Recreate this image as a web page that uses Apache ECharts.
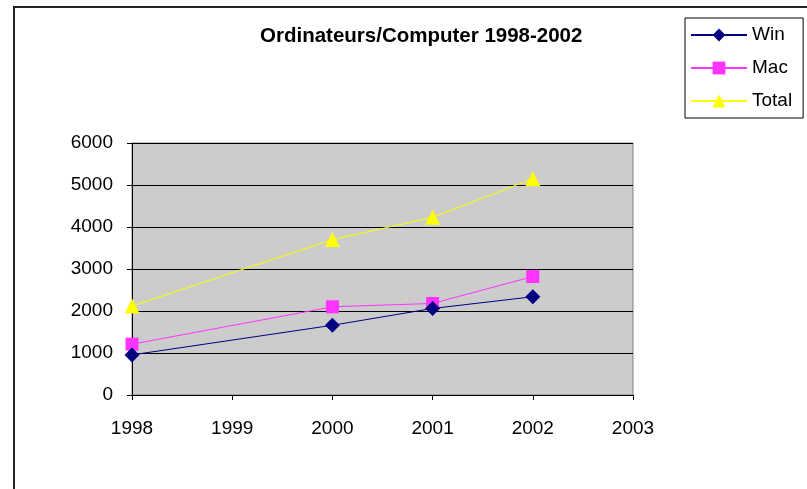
<!DOCTYPE html>
<html>
<head>
<meta charset="utf-8">
<script src="https://cdn.jsdelivr.net/npm/echarts@6/dist/echarts.min.js"></script>
<style>
  html, body { margin: 0; padding: 0; background: #fff; }
  #main { width: 807px; height: 489px; }
</style>
</head>
<body>
<div id="main"></div>
<script>
// data (no value for 1999)
var years = [1998, 2000, 2001, 2002];
var winValues = [955, 1660, 2060, 2340];
var macValues = [1210, 2100, 2180, 2820];
var totalValues = [2120, 3700, 4230, 5150];

function pairs(vals) {
  return years.map(function (y, i) { return [y, vals[i]]; });
}

var font = '"Liberation Sans", Arial, sans-serif';
var myChart = echarts.init(document.getElementById('main'));

myChart.setOption({
  animation: false,
  backgroundColor: '#fff',
  textStyle: { fontFamily: font },
  title: {
    text: 'Ordinateurs/Computer 1998-2002',
    left: 255,
    top: 21,
    textStyle: { fontSize: 20.5, fontWeight: 'bold', color: '#000', fontFamily: font }
  },
  legend: {
    orient: 'vertical',
    left: 685,
    top: 18,
    padding: [6, 11, 6, 5],
    borderColor: '#000',
    borderWidth: 1,
    itemGap: 11,
    itemWidth: 56,
    itemHeight: 16,
    textStyle: { fontSize: 19, color: '#000', lineHeight: 22, fontFamily: font },
    data: ['Win', 'Mac', 'Total']
  },
  graphic: [{
    type: 'rect',
    shape: { x: 14, y: 7, width: 1000, height: 1000 },
    style: { fill: 'none', stroke: '#222', lineWidth: 2 },
    silent: true
  }],
  grid: {
    left: 132,
    right: 174,
    top: 143,
    bottom: 94,
    show: true,
    backgroundColor: '#cccccc',
    borderColor: '#808080',
    borderWidth: 1
  },
  xAxis: {
    type: 'value',
    min: 1998,
    max: 2003,
    interval: 1,
    axisLine: { lineStyle: { color: '#000' } },
    axisTick: { show: true, length: 5, lineStyle: { color: '#000' } },
    axisLabel: {
      margin: 24, fontSize: 19, color: '#000', fontFamily: font,
      formatter: function (v) { return String(v); }
    },
    splitLine: { show: false }
  },
  yAxis: {
    type: 'value',
    min: 0,
    max: 6000,
    interval: 1000,
    axisLine: { show: true, lineStyle: { color: '#000' } },
    axisTick: { show: true, length: 5, lineStyle: { color: '#000' } },
    axisLabel: {
      margin: 19, fontSize: 19, color: '#000', fontFamily: font,
      padding: [3, 0, 0, 0],
      formatter: function (v) { return String(v); }
    },
    splitLine: { show: true, lineStyle: { color: '#000', width: 1 } }
  },
  series: [
    {
      name: 'Win',
      type: 'line',
      data: pairs(winValues),
      symbol: 'diamond',
      symbolSize: 15,
      itemStyle: { color: '#000080' },
      lineStyle: { color: '#000080', width: 1 },
      z: 4
    },
    {
      name: 'Mac',
      type: 'line',
      data: pairs(macValues),
      symbol: 'rect',
      symbolSize: 13,
      itemStyle: { color: '#ff33ff' },
      lineStyle: { color: '#ff33ff', width: 1 },
      z: 3
    },
    {
      name: 'Total',
      type: 'line',
      data: pairs(totalValues),
      symbol: 'triangle',
      symbolSize: 15,
      itemStyle: { color: '#ffff00' },
      lineStyle: { color: '#ffff00', width: 1 },
      z: 2
    }
  ]
});
</script>
</body>
</html>
